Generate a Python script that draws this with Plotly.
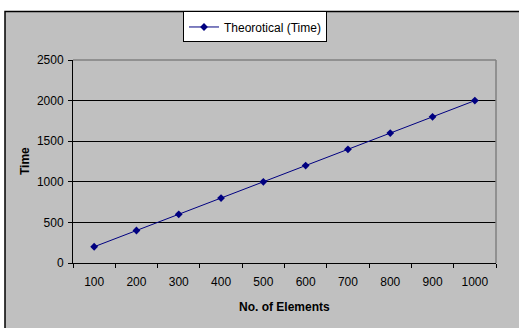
import plotly.graph_objects as go

categories = ["100", "200", "300", "400", "500", "600", "700", "800", "900", "1000"]
theoretical_time = [200, 400, 600, 800, 1000, 1200, 1400, 1600, 1800, 2000]
series_name = "Theorotical (Time)"
y_title = "Time"
x_title = "No. of Elements"

W, H = 519, 328
L, R, T, B = 73, 23, 58, 65
pw = W - L - R
ph = H - T - B

def px(x):
    return (x - L) / pw

def py(y):
    return (H - B - y) / ph

fig = go.Figure()
fig.add_trace(go.Scatter(
    x=categories, y=theoretical_time, name=series_name,
    mode="lines+markers",
    line=dict(color="#000080", width=1),
    marker=dict(symbol="diamond", size=6, color="#000080"),
))

shapes = [
    dict(type="rect", xref="paper", yref="paper",
         x0=px(5), x1=px(W + 30), y0=py(H + 30), y1=py(9),
         fillcolor="#C0C0C0", line=dict(color="black", width=1.5), layer="below"),
    dict(type="line", xref="paper", yref="paper",
         x0=0, x1=1, y0=1, y1=1, line=dict(color="#808080", width=1.5)),
    dict(type="line", xref="paper", yref="paper",
         x0=1, x1=1, y0=0, y1=1, line=dict(color="#808080", width=1.5)),
]

fig.update_layout(
    width=W, height=H,
    margin=dict(l=L, r=R, t=T, b=B),
    paper_bgcolor="white",
    plot_bgcolor="#C0C0C0",
    font=dict(family="Liberation Sans, Arial", size=12, color="black"),
    shapes=shapes,
    showlegend=True,
    legend=dict(x=px(183), y=py(9), xanchor="left", yanchor="top",
                bgcolor="white", bordercolor="black", borderwidth=1,
                font=dict(size=12), itemwidth=30,
                tracegroupgap=0),
    annotations=[
        dict(text="<b>" + y_title + "</b>", xref="paper", yref="paper",
             x=px(25), y=py(160), xanchor="center", yanchor="middle",
             showarrow=False, textangle=-90, font=dict(size=12)),
        dict(text="<b>" + x_title + "</b>", xref="paper", yref="paper",
             x=px(284), y=py(307), xanchor="center", yanchor="middle",
             showarrow=False, font=dict(size=12)),
    ],
)

fig.update_xaxes(
    type="category", range=[-0.5, 9.5],
    showline=True, linecolor="black", linewidth=1,
    ticks="outside", tickson="boundaries", ticklen=4, tickcolor="black",
    showgrid=False, zeroline=False,
    tickfont=dict(size=12), ticklabelstandoff=8,
)
fig.update_yaxes(
    range=[0, 2500], dtick=500,
    showline=True, linecolor="black", linewidth=1,
    ticks="outside", ticklen=4, tickcolor="black",
    showgrid=True, gridcolor="black", gridwidth=1,
    zeroline=False,
    tickfont=dict(size=12), ticklabelstandoff=2,
)

fig.write_html("out.html")
